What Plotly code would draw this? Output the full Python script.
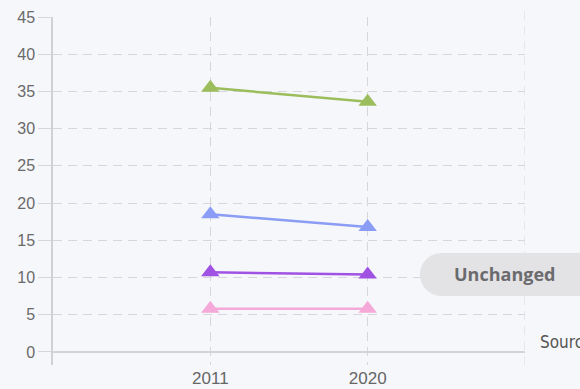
import plotly.graph_objects as go

categories = ["2011", "2020"]
series_names = ["Green", "Blue", "Purple", "Pink"]
green_vals = [35.5, 33.6]
blue_vals = [18.5, 16.8]
purple_vals = [10.7, 10.4]
pink_vals = [5.8, 5.8]
colors = ["#9bbd5c", "#8a9cf4", "#a052e2", "#f5a9d9"]
y_ticks = [0, 5, 10, 15, 20, 25, 30, 35, 40, 45]

W, H = 580, 389
L, R, T, B = 53, 55, 17, 24
pw, ph = W - L - R, H - T - B

def px2paper(x, y):
    return (x - L) / pw, (H - B - y) / ph

fig = go.Figure()
xs = [0, 1]
for name, vals, c in zip(series_names, [green_vals, blue_vals, purple_vals, pink_vals], colors):
    fig.add_trace(go.Scatter(
        x=xs, y=vals, mode="lines+markers", name=name,
        line=dict(color=c, width=2.5),
        marker=dict(symbol="triangle-up", size=16, color=c),
        hoverinfo="skip", showlegend=False, cliponaxis=False))

# right-edge dashed gridline
fig.add_shape(type="line", xref="x", yref="paper", x0=2, x1=2, y0=0, y1=1.02,
              line=dict(color="#d6d6dc", width=1, dash="9px,6px"), layer="below")

x0, x1, y0, y1 = 420, 600, 253, 296
r = (y1 - y0) / 2
k = 0.5523 * r
def P(x, y):
    a, b = px2paper(x, y)
    return f"{a:.5f},{b:.5f}"
path = (f"M {P(x0 + r, y0)} L {P(x1 - r, y0)} "
        f"C {P(x1 - r + k, y0)} {P(x1, y0 + r - k)} {P(x1, y0 + r)} "
        f"C {P(x1, y0 + r + k)} {P(x1 - r + k, y1)} {P(x1 - r, y1)} "
        f"L {P(x0 + r, y1)} "
        f"C {P(x0 + r - k, y1)} {P(x0, y0 + r + k)} {P(x0, y0 + r)} "
        f"C {P(x0, y0 + r - k)} {P(x0 + r - k, y0)} {P(x0 + r, y0)} Z")
fig.add_shape(type="path", path=path, xref="paper", yref="paper",
              fillcolor="#e3e3e5", line=dict(width=0), layer="above")

ax, ay = px2paper(504, 274)
fig.add_annotation(text="<b>Unchanged</b>", x=ax, y=ay, xref="paper", yref="paper",
                   showarrow=False, xanchor="center", yanchor="middle",
                   font=dict(family="Open Sans", size=18, color="#6b6b6e"))
sx, sy = px2paper(538, 342)
fig.add_annotation(text="Source", x=sx, y=sy, xref="paper", yref="paper",
                   showarrow=False, xanchor="left", yanchor="middle",
                   font=dict(family="DejaVu Sans Condensed", size=17, color="#555"))

fig.update_layout(
    width=W, height=H, margin=dict(l=L, r=R, t=T, b=B, autoexpand=False),
    paper_bgcolor="#f6f7fb", plot_bgcolor="#f6f7fb",
    font=dict(family="Arial", color="#666", size=14),
    xaxis=dict(range=[-1, 2], tickmode="array", tickvals=[-1, 0, 1, 2],
               ticktext=["", categories[0], categories[1], ""], automargin=False,
               showgrid=True, gridcolor="#d6d6dc", griddash="9px,6px", gridwidth=1,
               zeroline=False, showline=False, ticks="", ticklabelstandoff=1,
               tickfont=dict(family="Arial", size=17, color="#666"), fixedrange=True),
    yaxis=dict(range=[-1.75, 45], tickmode="array", tickvals=y_ticks, automargin=False,
               showgrid=True, gridcolor="#d6d6dc", griddash="9px,6px", gridwidth=1,
               zeroline=True, zerolinecolor="#d3d3d8", zerolinewidth=1.5,
               showline=True, linecolor="#d0d0d5", linewidth=1.5,
               ticks="outside", ticklen=13, tickcolor="#d6d6dc", tickwidth=1,
               tickfont=dict(family="Arial", size=16, color="#6a6a6a"), fixedrange=True),
)
fig.write_html("out.html")
